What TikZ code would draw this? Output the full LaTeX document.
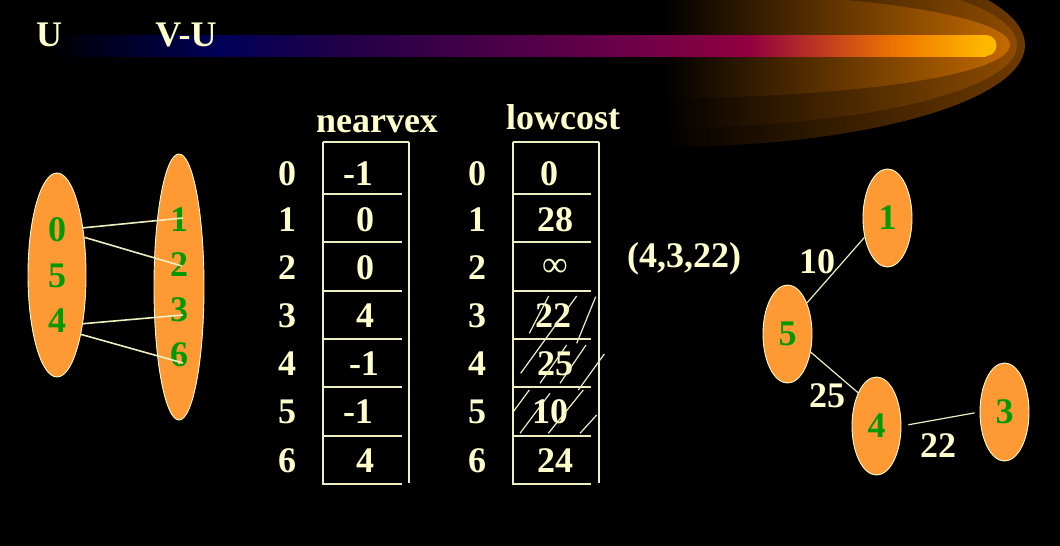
\documentclass[tikz,border=0pt]{standalone}
\usepackage{fontspec}
\setmainfont{Liberation Serif}[BoldFont={Liberation Serif Bold}]
\usetikzlibrary{shapes.geometric,calc}
\definecolor{cream}{HTML}{FFFFCC}
\definecolor{lcream}{HTML}{EEEEC0}
\definecolor{vorange}{HTML}{FF9933}
\definecolor{vgreen}{HTML}{009900}
\definecolor{glowA}{HTML}{6E3A00}
\definecolor{glowAm}{HTML}{3C2000}
\definecolor{glowB}{HTML}{8E4C00}
\definecolor{glowBm}{HTML}{583000}
\definecolor{glowC}{HTML}{C46A00}
\definecolor{glowCm}{HTML}{7A4200}
\definecolor{barA}{HTML}{000058}
\definecolor{barB}{HTML}{200048}
\definecolor{barC}{HTML}{700048}
\definecolor{barD}{HTML}{920040}
\definecolor{barE}{HTML}{F07800}
\definecolor{barF}{HTML}{FFB800}
\tikzset{
  bigfont/.style={font=\fontsize{36pt}{40pt}\selectfont\bfseries},
  ctext/.style={bigfont, text=cream, inner sep=0pt},
  gtext/.style={bigfont, text=vgreen, inner sep=0pt},
  oval/.style={ellipse, draw=cream, line width=0.9pt, fill=vorange, inner sep=0pt},
  tnode/.style={oval, minimum width=49pt, minimum height=98pt, bigfont, text=vgreen},
  tline/.style={draw=lcream, line width=1.8pt},
  link/.style={draw=lcream, line width=1.6pt},
  tedge/.style={draw=lcream, line width=1.2pt},
  hatch/.style={draw=lcream, line width=1.2pt},
}
\begin{document}
\begin{tikzpicture}[x=1pt,y=-1pt]
\useasboundingbox (0,0) rectangle (1060,546);
\fill[black] (0,0) rectangle (1060,546);
% glow
\begin{scope}
  \clip (663,45) ellipse [x radius=362, y radius=102];
  \shade[left color=black, middle color=glowAm, right color=glowA] (663,0) rectangle (1025,150);
\end{scope}
\begin{scope}
  \clip (663,45) ellipse [x radius=354, y radius=83];
  \shade[left color=black, middle color=glowBm, right color=glowB] (663,0) rectangle (1017,150);
\end{scope}
\begin{scope}
  \clip (663,45) ellipse [x radius=347, y radius=53];
  \shade[left color=black, middle color=glowCm, right color=glowC] (663,0) rectangle (1010,150);
\end{scope}
% bar
\shade[left color=black, right color=barA] (45,35) rectangle (220,56);
\shade[left color=barA, right color=barB] (219.5,35) rectangle (340,56);
\shade[left color=barB, right color=barC] (339.5,35) rectangle (640,56);
\shade[left color=barC, right color=barD] (639.5,35) rectangle (750,56);
\shade[left color=barD, right color=barE] (749.5,35) rectangle (900,56);
\fill[barF] (986,45.5) circle (10.5pt);
\shade[left color=barE, right color=barF] (899.5,35) rectangle (986,56);
% titles
\node[ctext] (tU) at (49,35) {U};
\node[ctext] (tVU) at (186,35) {V-U};
% sets
\node[oval, minimum width=58pt, minimum height=204pt] (U) at (57,275) {};
\node[oval, minimum width=50pt, minimum height=266pt] (VU) at (179,287) {};
\node[gtext] (u0) at (57,230) {0};
\node[gtext] (u5) at (57,276) {5};
\node[gtext] (u4) at (57,321) {4};
\node[gtext] (v1) at (179,220) {1};
\node[gtext] (v2) at (179,265) {2};
\node[gtext] (v3) at (179,310) {3};
\node[gtext] (v6) at (179,355) {6};
\draw[link] (U.61) -- ($(v1.center)+(4,-2)$);
\draw[link] (U.54) -- ($(v2.center)+(3,1)$);
\draw[link] (U.-62.6) -- ($(v3.center)+(4,5)$);
\draw[link] (U.-68.7) -- ($(v6.center)+(4,8)$);
% headers
\node[ctext, anchor=base] (hnear) at (377,132) {nearvex};
\node[ctext, anchor=base] (hlow) at (563,129) {lowcost};
% table frames
\draw[tline] (323,142) -- (409,142);
\draw[tline] (323,142) -- (323,485);
\draw[tline] (409,142) -- (409,483);
\draw[tline] (513,142) -- (599,142);
\draw[tline] (513,142) -- (513,485);
\draw[tline] (599,142) -- (599,483);
\foreach \yy in {194,242,291,339,387,436,484} {
  \draw[tline] (323,\yy) -- (402,\yy);
  \draw[tline] (513,\yy) -- (591,\yy);
}
% indices
\foreach \i/\yy in {0/174,1/220,2/268,3/316,4/364,5/412,6/461} {
  \node[ctext] (ni\i) at (287,\yy) {\i};
  \node[ctext] (li\i) at (477,\yy) {\i};
}
% nearvex values
\node[ctext] (nv0) at (358,174) {-1};
\node[ctext] (nv1) at (365,220) {0};
\node[ctext] (nv2) at (365,268) {0};
\node[ctext] (nv3) at (365,316) {4};
\node[ctext] (nv4) at (364,364) {-1};
\node[ctext] (nv5) at (358,412) {-1};
\node[ctext] (nv6) at (365,461) {4};
% lowcost values
\node[ctext] (lv0) at (549,174) {0};
\node[ctext] (lv1) at (555,220) {28};
\node[text=cream, inner sep=0pt, font=\fontsize{36pt}{40pt}\selectfont] (lv2) at (555,268) {∞};
\node[ctext] (lv3) at (553,316) {22};
\node[ctext] (lv4) at (555,364) {25};
\node[ctext] (lv5) at (550,412) {10};
\node[ctext] (lv6) at (555,461) {24};
% hatching
\draw[hatch] (529.3,333.3) -- (548.7,296);
\draw[hatch] (520.7,373.3) -- (576.7,296);
\draw[hatch] (576.7,343.3) -- (595.7,296.7);
\draw[hatch] (540,383.3) -- (566.7,345);
\draw[hatch] (560,383.3) -- (586,345);
\draw[hatch] (578.3,390) -- (604.3,354);
\draw[hatch] (513.3,411.7) -- (529.3,390);
\draw[hatch] (520,433.3) -- (550,393.3);
\draw[hatch] (548.3,433.3) -- (583.3,390);
\draw[hatch] (580,433.3) -- (596.7,415);
% edge tuple
\node[ctext, anchor=base] (tuple) at (684,267) {(4,3,22)};
% tree
\node[tnode] (t1) at (887.5,218) {1};
\node[tnode] (t5) at (787.5,334) {5};
\node[tnode] (t4) at (876.5,426) {4};
\node[tnode] (t3) at (1004.5,412) {3};
\draw[tedge] (t1.220) -- (t5.58);
\draw[tedge] (t5.-38) -- (t4.119);
\draw[tedge, shorten <=7pt, shorten >=5pt] (t4.east) -- (t3.west);
\node[ctext] (w10) at (817,262) {10};
\node[ctext] (w25) at (827,396) {25};
\node[ctext] (w22) at (938,446) {22};
\end{tikzpicture}
\end{document}
